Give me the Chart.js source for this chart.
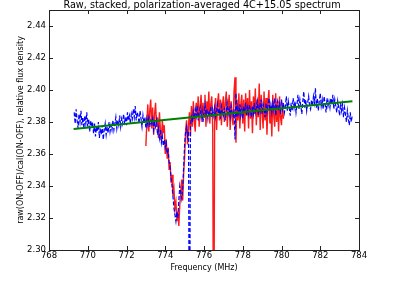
<!DOCTYPE html>
<html>
<head>
<meta charset="utf-8">
<script src="https://cdn.jsdelivr.net/npm/chart.js@4"></script>
<style>
  html, body { margin: 0; padding: 0; background: #fff; }
  #wrap { width: 400px; height: 281px; }
</style>
</head>
<body>
<div id="wrap"><canvas id="myChart"></canvas></div>
<script>
// frequency grid (MHz)
const freqStep = 0.05;
const blueStart = 769.30;
const redStart = 773.00;

// polarization-averaged spectrum (blue, dashed)
const blueValues = [
  2.386, 2.379, 2.388, 2.381, 2.376, 2.385, 2.380, 2.387, 2.378, 2.383, 2.376, 2.384, 2.379, 2.386, 2.377, 2.382, 2.374, 2.381, 2.377, 2.380,
  2.373, 2.379, 2.371, 2.377, 2.374, 2.380, 2.370, 2.376, 2.372, 2.378, 2.369, 2.375, 2.379, 2.372, 2.377, 2.373, 2.380, 2.374, 2.378, 2.375,
  2.381, 2.375, 2.379, 2.383, 2.376, 2.381, 2.378, 2.384, 2.377, 2.382, 2.379, 2.385, 2.380, 2.383, 2.378, 2.386, 2.381, 2.384, 2.379, 2.385,
  2.382, 2.388, 2.383, 2.390, 2.381, 2.386, 2.384, 2.379, 2.387, 2.382, 2.377, 2.384, 2.379, 2.383, 2.376, 2.382, 2.378, 2.384, 2.377, 2.381,
  2.379, 2.382, 2.375, 2.380, 2.377, 2.381, 2.372, 2.376, 2.370, 2.375, 2.367, 2.371, 2.365, 2.369, 2.364, 2.367, 2.360, 2.362, 2.355, 2.352,
  2.345, 2.340, 2.333, 2.326, 2.322, 2.318, 2.324, 2.320, 2.331, 2.340, 2.336, 2.332, 2.338, 2.352, 2.366, 2.374, 2.377, 2.371, 2.374, 2.200,
  2.378, 2.383, 2.380, 2.386,
  2.382, 2.388, 2.384, 2.390, 2.381, 2.386, 2.389, 2.383, 2.387, 2.380, 2.386, 2.391, 2.384, 2.388, 2.382, 2.387, 2.385, 2.390, 2.383, 2.388,
  2.384, 2.389, 2.383, 2.387, 2.391, 2.385, 2.388, 2.382, 2.390, 2.386, 2.384, 2.389, 2.381, 2.387, 2.392, 2.385, 2.388, 2.383, 2.390, 2.386,
  2.384, 2.388, 2.369, 2.398, 2.383, 2.389, 2.385, 2.391, 2.384, 2.388, 2.382, 2.390, 2.386, 2.392, 2.384, 2.389, 2.385, 2.391, 2.387, 2.383,
  2.390, 2.385, 2.392, 2.386, 2.389, 2.393, 2.384, 2.390, 2.387, 2.394, 2.385, 2.391, 2.388, 2.383, 2.392, 2.386, 2.390, 2.395, 2.387, 2.391,
  2.386, 2.392, 2.388, 2.395, 2.384, 2.390, 2.393, 2.387, 2.391, 2.385, 2.394, 2.388, 2.392, 2.386, 2.390, 2.396, 2.387, 2.393, 2.389, 2.384,
  2.392, 2.387, 2.395, 2.389, 2.393, 2.386, 2.391, 2.397, 2.388, 2.394, 2.390, 2.385, 2.393, 2.399, 2.389, 2.394, 2.387, 2.392, 2.396, 2.390,
  2.388, 2.394, 2.390, 2.396, 2.392, 2.401, 2.389, 2.395, 2.387, 2.393, 2.398, 2.390, 2.394, 2.388, 2.396, 2.391, 2.386, 2.395, 2.390, 2.393,
  2.389, 2.395, 2.391, 2.397, 2.388, 2.394, 2.390, 2.386, 2.393, 2.389, 2.384, 2.392, 2.387, 2.391, 2.383, 2.389, 2.385, 2.380, 2.387, 2.382,
  2.378, 2.386, 2.380, 2.384
];

// stacked spectrum (red)
const redValues = [
  2.365, 2.380, 2.391, 2.374, 2.387, 2.394, 2.376, 2.389, 2.372, 2.385, 2.392, 2.378, 2.383, 2.370, 2.386, 2.375, 2.368, 2.381, 2.373, 2.378,
  2.360, 2.369, 2.357, 2.364, 2.350, 2.355, 2.342, 2.347, 2.334, 2.338, 2.326, 2.330, 2.318, 2.324, 2.315, 2.328, 2.336, 2.344, 2.331, 2.348,
  2.358, 2.374, 2.381, 2.366, 2.378, 2.386, 2.371, 2.390, 2.377, 2.393, 2.380, 2.374, 2.392, 2.383, 2.396, 2.377, 2.390, 2.397, 2.380, 2.392,
  2.383, 2.397, 2.377, 2.393, 2.385, 2.399, 2.379, 2.391, 2.396, 2.376, 2.200, 2.388, 2.395, 2.375, 2.392, 2.398, 2.381, 2.394, 2.378, 2.390,
  2.396, 2.380, 2.392, 2.399, 2.377, 2.389, 2.397, 2.375, 2.393, 2.383, 2.378, 2.399, 2.408, 2.367, 2.394, 2.381, 2.398, 2.376, 2.391, 2.397,
  2.379, 2.394, 2.374, 2.398, 2.384, 2.395, 2.376, 2.400, 2.382, 2.393, 2.373, 2.396, 2.385, 2.401, 2.378, 2.394, 2.383, 2.404, 2.375, 2.397,
  2.387, 2.376, 2.399, 2.381, 2.395, 2.372, 2.392, 2.400, 2.379, 2.390, 2.371, 2.397, 2.384, 2.377, 2.398, 2.380, 2.393, 2.374, 2.396, 2.383,
  2.378, 2.392, 2.382
];

// baseline fit (green)
const fitFreqs = [769.27, 783.66];
const fitValues = [2.3756, 2.3930];

const chartTitle = 'Raw, stacked, polarization-averaged 4C+15.05 spectrum';

const toPoints = (start, vals) => vals.map((v, i) => ({ x: +(start + i * freqStep).toFixed(3), y: v }));

// box, inward ticks on all four sides, title centred over the axes
const frameTicks = {
  id: 'frameTicks',
  afterDraw(chart) {
    const { ctx, chartArea: a, scales: { x, y } } = chart;
    const len = 4;
    ctx.save();
    ctx.strokeStyle = '#222';
    ctx.lineWidth = 1;
    ctx.strokeRect(Math.round(a.left) + 0.5, Math.round(a.top) + 0.5,
      Math.round(a.right - a.left), Math.round(a.bottom - a.top));
    ctx.beginPath();
    x.ticks.forEach(t => {
      const px = Math.round(x.getPixelForValue(t.value)) + 0.5;
      ctx.moveTo(px, a.bottom); ctx.lineTo(px, a.bottom - len);
      ctx.moveTo(px, a.top); ctx.lineTo(px, a.top + len);
    });
    y.ticks.forEach(t => {
      const py = Math.round(y.getPixelForValue(t.value)) + 0.5;
      ctx.moveTo(a.left, py); ctx.lineTo(a.left + len, py);
      ctx.moveTo(a.right, py); ctx.lineTo(a.right - len, py);
    });
    ctx.stroke();

    ctx.fillStyle = '#000';
    ctx.font = '9.7px "DejaVu Sans", sans-serif';
    ctx.textAlign = 'center';
    ctx.textBaseline = 'alphabetic';
    ctx.fillText(chartTitle, (a.left + a.right) / 2 - 2, a.top - 2);
    ctx.restore();
  }
};

Chart.defaults.font.family = '"DejaVu Sans", sans-serif';
Chart.defaults.color = '#000';

const ctx = document.getElementById('myChart');

const myChart = new Chart(ctx, {
  type: 'line',
  data: {
    datasets: [{
        label: 'fit',
        data: fitFreqs.map((f, i) => ({ x: f, y: fitValues[i] })),
        borderColor: '#008000',
        borderWidth: 2,
        order: 0
      }, {
        label: 'averaged',
        data: toPoints(blueStart, blueValues),
        borderColor: '#0000ff',
        borderWidth: 1.2,
        borderDash: [4, 2],
        order: 1
      }, {
        label: 'stacked',
        data: toPoints(redStart, redValues),
        borderColor: 'rgba(255, 0, 0, 0.9)',
        borderWidth: 1.4,
        order: 2
      }]
  },
  options: {
    responsive: true,
    maintainAspectRatio: false,
    animation: false,
    elements: { point: { radius: 0 }, line: { tension: 0 } },
    layout: { padding: { left: 0, right: 41, top: 10, bottom: 0 } },
    plugins: {
      legend: { display: false },
      tooltip: { enabled: false },
      title: { display: false }
    },
    scales: {
      x: {
        type: 'linear',
        min: 768,
        max: 784,
        grid: { display: false, drawTicks: false },
        border: { display: false },
        ticks: { stepSize: 2, font: { size: 8.5 }, padding: 1, maxRotation: 0 },
        title: { display: true, text: 'Frequency (MHz)', font: { size: 8 }, padding: { top: 1, bottom: 8 } },
        afterFit: (scale) => { scale.height = 31; }
      },
      y: {
        min: 2.30,
        max: 2.45,
        grid: { display: false, drawTicks: false },
        border: { display: false },
        ticks: {
          stepSize: 0.02,
          includeBounds: false,
          font: { size: 8.5 },
          padding: 3,
          callback: (v) => v.toFixed(2)
        },
        title: { display: true, text: 'raw(ON-OFF)/cal(ON-OFF), relative flux density', font: { size: 8 }, padding: { top: 16, bottom: 0 } },
        afterFit: (scale) => { scale.width = 49; }
      }
    }
  },
  plugins: [frameTicks]
});
</script>
</body>
</html>
